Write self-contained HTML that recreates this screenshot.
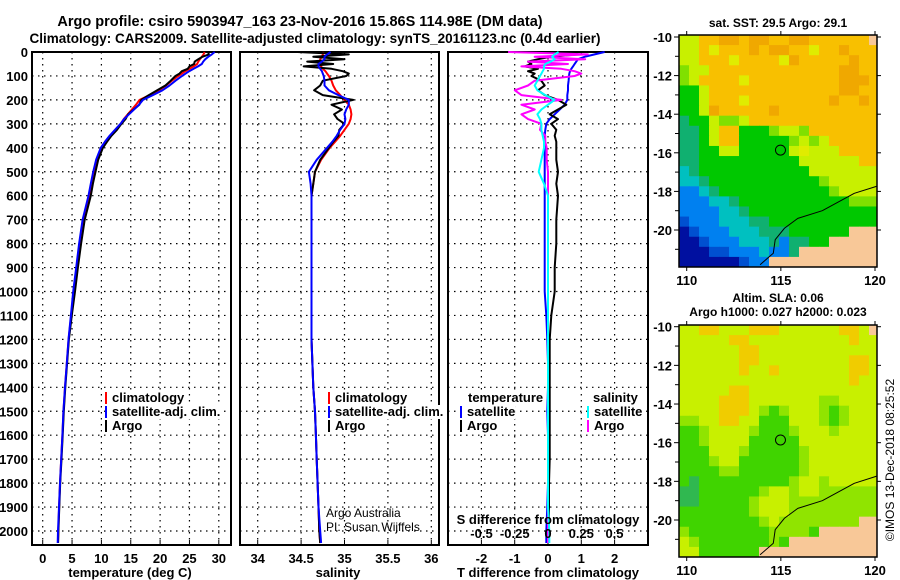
<!DOCTYPE html>
<html><head><meta charset="utf-8"><style>
html,body{margin:0;padding:0;background:#fff;}
svg{display:block;font-family:"Liberation Sans",sans-serif;}
</style></head><body>
<svg id="chart" width="900" height="580" viewBox="0 0 900 580" xmlns="http://www.w3.org/2000/svg">
<rect width="900" height="580" fill="#fff"/>
<text x="300" y="26" text-anchor="middle" font-size="14.5" font-weight="bold">Argo profile: csiro 5903947_163 23-Nov-2016 15.86S 114.98E (DM data)</text>
<text x="315" y="43" text-anchor="middle" font-size="13.5" font-weight="bold">Climatology: CARS2009. Satellite-adjusted climatology: synTS_20161123.nc (0.4d earlier)</text>
<g id="panels"></g>
<g id="maps"></g>
<text transform="translate(894,460) rotate(-90)" text-anchor="middle" font-size="12">©IMOS 13-Dec-2018 08:25:52</text>
</svg>
<script>
const depths=[0,10,20,30,40,50,60,70,80,90,100,120,140,160,180,200,220,240,260,280,300,325,350,375,400,450,500,550,600,700,800,900,1000,1100,1200,1300,1400,1500,1600,1700,1800,1900,2000,2050];
const tempClim=[27.6,27.4,27.1,26.8,26.5,26.3,25.7,25.0,24.3,23.7,23.1,22.0,21.0,19.8,18.2,16.5,15.9,15.2,14.5,13.8,13.3,12.4,11.5,10.7,10.0,9.2,8.7,8.3,7.9,6.9,6.3,5.8,5.3,4.85,4.42,4.1,3.8,3.55,3.35,3.15,2.95,2.8,2.65,2.6];
const tDiffSat=[1.7,1.4,1.1,0.9,0.85,0.8,0.75,0.7,0.66,0.64,0.63,0.62,0.6,0.6,0.58,0.58,0.5,0.35,0.2,0.05,-0.05,-0.08,-0.1,-0.1,-0.1,-0.1,-0.1,-0.1,-0.1,-0.1,-0.1,-0.1,-0.1,-0.05,-0.02,0,0,-0.02,0,0,0,-0.02,-0.05,-0.05];
const tDiffArgo=[0.6,0.9,0.1,-0.3,-0.6,-0.5,-0.7,-0.3,-0.6,-0.4,-0.5,-0.2,-0.1,-0.3,-0.1,0.3,0.55,0.3,0.05,0.3,0.1,0.25,0.2,0.25,0.25,0.25,0.3,0.25,0.3,0.25,0.25,0.2,0.2,0.1,0.05,0.05,0.05,0.05,0.05,0.05,0.03,0.03,0.02,0.02];
const salClim=[34.76,34.75,34.74,34.72,34.72,34.72,34.73,34.75,34.78,34.8,34.82,34.85,34.87,34.9,34.95,35.0,35.05,35.07,35.08,35.07,35.05,35.0,34.95,34.89,34.83,34.73,34.66,34.64,34.62,34.62,34.62,34.62,34.62,34.62,34.62,34.63,34.64,34.66,34.67,34.68,34.69,34.7,34.71,34.72];
const sDiffSat=[0.08,0.05,0.03,0.05,0.02,-0.02,-0.03,-0.03,-0.04,-0.05,-0.06,-0.08,-0.1,-0.08,-0.02,0.05,0,-0.05,-0.08,-0.06,-0.05,-0.05,-0.04,-0.03,-0.03,-0.05,-0.07,-0.03,0,0,0,0,0,0,0,0,0,0,0,0,0,0,0.01,0.01];
const sDiffArgo=[-0.3,0.3,-0.1,0.28,-0.15,0.15,-0.2,0.1,0.2,0.25,0.2,-0.1,-0.15,-0.25,-0.2,0.1,-0.2,-0.1,-0.2,-0.15,-0.05,-0.06,-0.02,-0.02,-0.01,-0.01,0,0,0,0,0,0,0,0,0,0,0,0,0,0,0,0,0,0];
const tempTicks=[0,5,10,15,20,25,30];
const salTicks=[34,34.5,35,35.5,36];
const tdTicks=[-2,-1,0,1,2];
const sdTicks=[-0.5,-0.25,0,0.25,0.5];
const depthTicks=[0,100,200,300,400,500,600,700,800,900,1000,1100,1200,1300,1400,1500,1600,1700,1800,1900,2000];

const NS="http://www.w3.org/2000/svg";
function mk(tag,attrs,parent){const e=document.createElementNS(NS,tag);for(const k in attrs)e.setAttribute(k,attrs[k]);parent.appendChild(e);return e;}
const P=document.getElementById('panels');
const TOP=52,BOT=545;
const yD=d=>TOP+d*0.2395;
const xT=t=>42.7+t*5.87;
const xS=s=>257.7+(s-34)*86.8;
const xTD=t=>548+t*33.3;
const xSD=s=>548+s*133;

function frame(x0,x1,name,xs,xf,labels){
  const g=mk('g',{},P);
  
  
  depthTicks.forEach(d=>{if(d>0){const l=mk('line',{x1:x0,x2:x1,y1:yD(d),y2:yD(d),stroke:'#000','stroke-width':1.2,'stroke-dasharray':'1.5,4.5'},g);
    
    }});
  xs.forEach(v=>{const x=xf(v);const l=mk('line',{x1:x,x2:x,y1:TOP,y2:BOT,stroke:'#000','stroke-width':1.2,'stroke-dasharray':'1.5,4.5'},g);
    
    
    mk('line',{x1:x,x2:x,y1:BOT,y2:BOT-5,stroke:'#000','stroke-width':1},g);
    if(labels){const t=mk('text',{x:x,y:BOT+18,'text-anchor':'middle','font-size':13,'font-weight':'bold'},g);t.textContent=labels(v);
    
    }});
  const r=mk('rect',{x:x0,y:TOP,width:x1-x0,height:BOT-TOP,fill:'none',stroke:'#000','stroke-width':2},g);
  
  
  return g;
}
function line(g,xs,ys,color,name,w){
  const pts=xs.map((x,i)=>x.toFixed(1)+','+ys[i].toFixed(1)).join(' ');
  const l=mk('polyline',{points:pts,fill:'none',stroke:color,'stroke-width':w||2,'stroke-linejoin':'round'},g);
  
  
}
const ys=depths.map(yD);
const g1=frame(32,231,'temperature-panel',tempTicks,xT,v=>String(v));
line(g1,tempClim.map(xT),ys,'#f00','temperature-climatology-line');
line(g1,tempClim.map((v,i)=>xT(v+tDiffArgo[i])),ys,'#000','temperature-argo-line');
line(g1,tempClim.map((v,i)=>xT(v+tDiffSat[i])),ys,'#00f','temperature-satellite-line');
depthTicks.forEach(d=>{const t=mk('text',{x:28,y:yD(d)+5,'text-anchor':'end','font-size':13,'font-weight':'bold'},P);t.textContent=d;
  
  });
const g2=frame(240,439,'salinity-panel',salTicks,xS,v=>String(v));
line(g2,salClim.map(xS),ys,'#f00','salinity-climatology-line');
line(g2,salClim.map((v,i)=>xS(v+sDiffArgo[i])),ys,'#000','salinity-argo-line');
line(g2,salClim.map((v,i)=>xS(v+sDiffSat[i])),ys,'#00f','salinity-satellite-line');
const g3=frame(448,648,'difference-panel',tdTicks,xTD,v=>String(v));
line(g3,tDiffSat.map(xTD),ys,'#00f','t-diff-satellite-line');
line(g3,tDiffArgo.map(xTD),ys,'#000','t-diff-argo-line');
line(g3,sDiffArgo.map(xSD),ys,'#f0f','s-diff-argo-line');
line(g3,sDiffSat.map(xSD),ys,'#0ff','s-diff-satellite-line');
sdTicks.forEach(v=>{const t=mk('text',{x:xSD(v),y:538,'text-anchor':'middle','font-size':13,'font-weight':'bold'},g3);t.textContent=String(v);
  
  });
function txt(x,y,s,name,opt){const t=mk('text',Object.assign({x:x,y:y,'font-size':13,'font-weight':'bold'},opt||{}),P);t.textContent=s;
  
  return t;}
txt(548,524,'S difference from climatology','s-diff-axis-title',{'text-anchor':'middle'});
txt(130,577,'temperature (deg C)','x-axis-title-temperature',{'text-anchor':'middle'});
txt(338,577,'salinity','x-axis-title-salinity',{'text-anchor':'middle'});
txt(548,577,'T difference from climatology','x-axis-title-t-diff',{'text-anchor':'middle'});
txt(326,517,'Argo Australia','credit-line-1',{'font-weight':'normal','font-size':12});
txt(326,531,'PI: Susan Wijffels','credit-line-2',{'font-weight':'normal','font-size':12});
function legend(x,y,color,label,name){const r=mk('rect',{x:x,y:y-10,width:2,height:12,fill:color},P);
  
  
  mk('rect',{x:x+5,y:y-11,width:label.length*5.6,height:14,fill:'#fff'},P);
  txt(x+7,y,label,name);}
legend(105,402,'#f00','climatology','legend-climatology-temp');
legend(105,416,'#00f','satellite-adj. clim.','legend-satellite-temp');
legend(105,430,'#000','Argo','legend-argo-temp');
legend(328,402,'#f00','climatology','legend-climatology-sal');
legend(328,416,'#00f','satellite-adj. clim.','legend-satellite-sal');
legend(328,430,'#000','Argo','legend-argo-sal');
mk('rect',{x:466,y:391,width:76,height:14,fill:'#fff'},P);
txt(468,402,'temperature','legend-temperature-heading');
legend(460,416,'#00f','satellite','legend-t-satellite');
legend(460,430,'#000','Argo','legend-t-argo');
mk('rect',{x:591,y:391,width:50,height:14,fill:'#fff'},P);
txt(593,402,'salinity','legend-salinity-heading');
legend(587,416,'#0ff','satellite','legend-s-satellite');
legend(587,430,'#f0f','Argo','legend-s-argo');

const M=document.getElementById('maps');
const pal={O:'#f0a800',o:'#f8c000',Y:'#e0ec00',y:'#c8f000',g:'#80e000',G:'#00c800',T:'#10b070',C:'#00c0c0',B:'#0080f0',b:'#0050d0',N:'#0010a0',L:'#f8c898'};
const sstRows=["yyooOOoOOooOOooooooL","yyoYoooOoOOooYooOooo","yyoooYooooYOoooooOoo","gyyoooooooooooooOOoo","gyooooYoooooooooOOOo","GGyoooooooooooooOOoo","GGyoooYooooooooOooOo","GGyOoooooOoooooooooo","TGGyggyooooooooooooo","TTGyooGGGgyygooooooo","TTGyooGGGGGgygyooooo","TTGGyyGGGGGyYyyyoooo","TTGGGGGGGGGGyyyyyyoo","CTGGGGGGGGGGGyyyyyyy","CCTGGGGGGGGGGGgyyyyy","BBCTGGGGGGGGGGGgyyyy","BBBCCTGGGGGGGGGGGggg","BBBBCCTGGGGGGGGGGGGG","bBBBCCCTTGGGGGGGGGGG","NbBBBCCCTTTGGGGGGLLL","NNbBBBCCCTBTTGGLLLLL","NNNbbBBBCBBTLLLLLLLL","NNNNNNbBBLLLLLLLLLLL"];
const slaRows=["yyooyyyoooyyyyyyooyL","yyyyyooyyyyyyyyyyoyy","yyyyyyooyyyyyyyyyyyy","yyyyyyooyyyyyyyyyooy","yyyyyyoyyoyyyyyyyooy","yyyyyyyyyyyyyyyyyoyy","yyyyyooyyyyyyyyyyyyy","yyyyoooyyyyyyyggyyyy","yyyyoooygGgyyygGgyyy","ggyyooyyGGGyyygGgyyy","GGgyyyygGGGgyyygyyyy","GGgyyyyGGGGGyyyyyyyy","GGGyyygGGGGGgyyyyyyy","GGGgyyGGGGGGgyyyyyyy","GGGGggGGGGGGgyyyyyyy","GTGGGGGGGGGgyygyyyyy","TTGGGGGGgyygyygggggg","TTGGGGGgyyyggggggggg","GGGGGGGgyyyggggggggg","GGGGGGGGgyggggggggLL","gGGGGGGGGggggGLLLLLL","ygGGGGGGGgGLLLLLLLLL","yyGGGGGGLLLLLLLLLLLL"];
const slaPal=Object.assign({},pal,{o:'#f0cc00',y:'#c8f000',g:'#90e400',G:'#40d400',T:'#30b850'});
const contourLon=[120.2,118.9,117.2,115.9,115.2,114.7,114.6,113.9];
const contourLat=[-17.7,-18.1,-19.0,-19.4,-19.9,-20.5,-21.2,-21.8];
const mapLatTicks=[-10,-12,-14,-16,-18,-20];
const mapLonTicks=[110,115,120];
const argoLon=114.98, argoLat=-15.86;
function drawMap(y0,y1,rows,palette,name,title1,title2,lat10y,lat20y){
  const g=mk('g',{},M);
  
  
  const x0=679,x1=877;
  const lx=lon=>686.7+(lon-110)*18.83;
  const ly=lat=>lat10y+(-10-lat)*(lat20y-lat10y)/10;
  const cid='clip'+name;
  const cp=mk('clipPath',{id:cid},g);mk('rect',{x:x0,y:y0,width:x1-x0,height:y1-y0},cp);
  const cg=mk('g',{'clip-path':'url(#'+cid+')'},g);
  const ch=(y1-y0)/rows.length;
  rows.forEach((r,ri)=>{for(let ci=0;ci<r.length;ci++){mk('rect',{x:x0+ci*10,y:y0+ri*ch,width:10.5,height:ch+0.5,fill:palette[r[ci]]},cg);}});
  line(cg,contourLon.map(lx),contourLat.map(ly),'#000',name+'-contour',1);
  const c=mk('circle',{cx:lx(argoLon),cy:ly(argoLat),r:5,fill:'none',stroke:'#000','stroke-width':1},g);
  
  
  const fr=mk('rect',{x:x0,y:y0,width:x1-x0,height:y1-y0,fill:'none',stroke:'#000','stroke-width':1.5},g);
  
  
  mapLatTicks.forEach(v=>{const y=ly(v);mk('line',{x1:x0-5,x2:x0,y1:y,y2:y,stroke:'#000'},g);mk('line',{x1:x1,x2:x1+4,y1:y,y2:y,stroke:'#000'},g);
    const t=mk('text',{x:x0-7,y:y+5,'text-anchor':'end','font-size':13,'font-weight':'bold'},g);t.textContent=v;
    
    });
  [-11,-13,-15,-17,-19,-21].forEach(v=>{mk('line',{x1:x0-4,x2:x0,y1:ly(v),y2:ly(v),stroke:'#000'},g);});
  mapLonTicks.forEach(v=>{const x=lx(v);mk('line',{x1:x,x2:x,y1:y0-4,y2:y0,stroke:'#000'},g);mk('line',{x1:x,x2:x,y1:y1,y2:y1+4,stroke:'#000'},g);
    const t=mk('text',{x:x,y:y1+18,'text-anchor':'middle','font-size':13,'font-weight':'bold'},g);t.textContent=v;
    
    });
  title1&&txt(778,title1[1],title1[0],name+'-title',{'text-anchor':'middle','font-size':12});
  title2&&txt(778,title2[1],title2[0],name+'-subtitle',{'text-anchor':'middle','font-size':12});
}
drawMap(35,267,sstRows,pal,'sst-map',['sat. SST: 29.5 Argo: 29.1',27],null,37,230);
drawMap(325,557,slaRows,slaPal,'sla-map',['Altim. SLA: 0.06',302],['Argo h1000: 0.027 h2000: 0.023',316],326.7,520);
</script>
</body></html>
